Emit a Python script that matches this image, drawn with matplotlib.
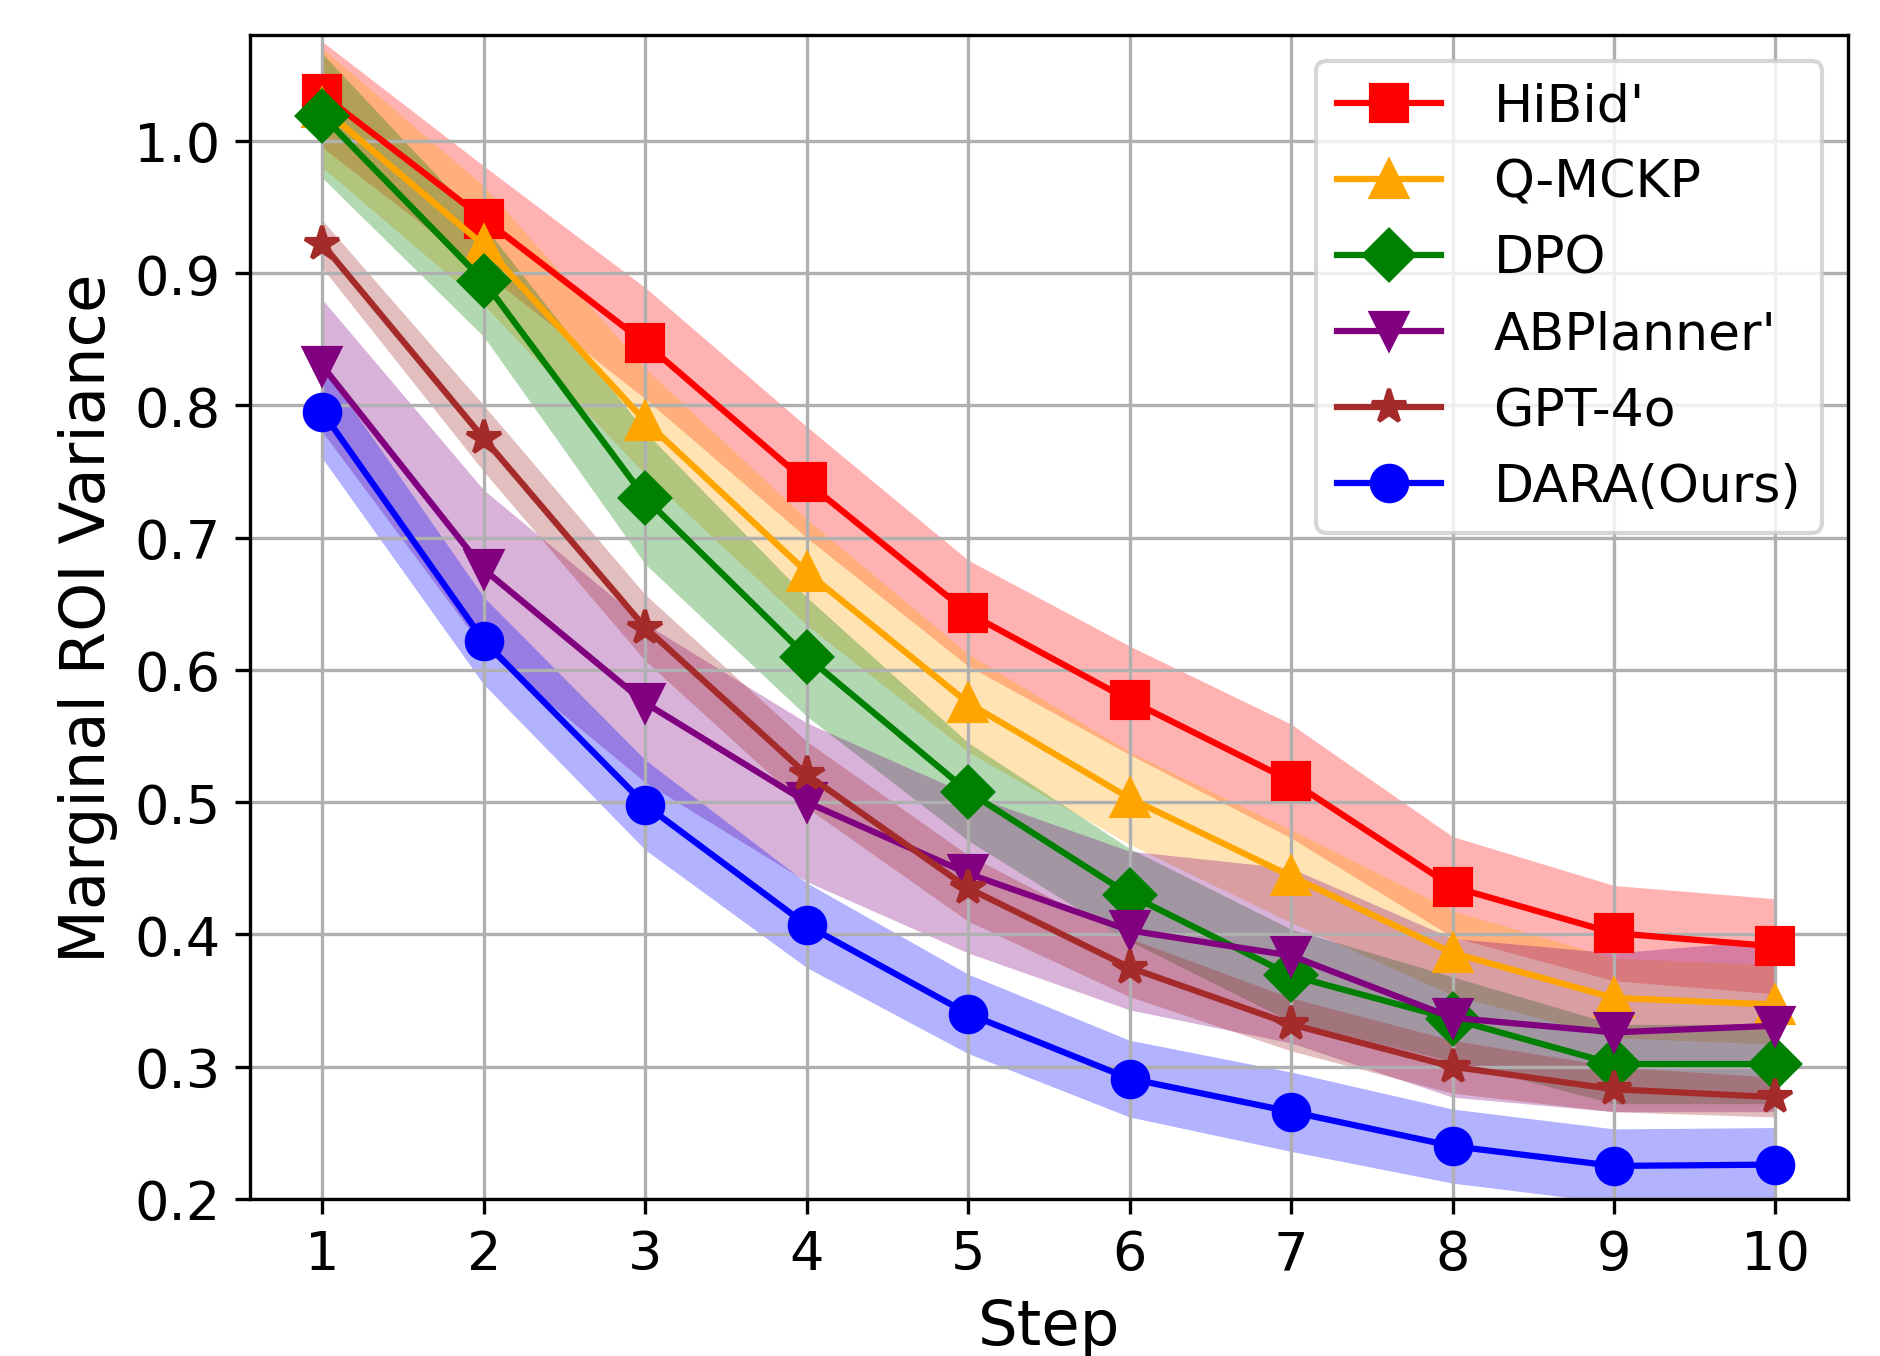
import numpy as np
import matplotlib
matplotlib.use('Agg')
import matplotlib.pyplot as plt

# data: mean and band half-width per step
steps = [1, 2, 3, 4, 5, 6, 7, 8, 9, 10]

hibid = [1.035, 0.941, 0.847, 0.742, 0.643, 0.577, 0.516, 0.436, 0.401, 0.391]
hibid_std = [0.040, 0.040, 0.042, 0.042, 0.040, 0.041, 0.043, 0.038, 0.036, 0.036]

qmckp = [1.025, 0.921, 0.788, 0.674, 0.575, 0.503, 0.444, 0.386, 0.352, 0.347]
qmckp_std = [0.045, 0.045, 0.040, 0.040, 0.037, 0.035, 0.035, 0.032, 0.030, 0.030]

dpo = [1.019, 0.894, 0.730, 0.610, 0.508, 0.430, 0.369, 0.336, 0.302, 0.302]
dpo_std = [0.047, 0.042, 0.050, 0.045, 0.037, 0.035, 0.035, 0.032, 0.030, 0.030]

abplanner = [0.830, 0.676, 0.575, 0.500, 0.446, 0.403, 0.384, 0.337, 0.326, 0.331]
abplanner_std = [0.050, 0.060, 0.060, 0.060, 0.060, 0.060, 0.066, 0.060, 0.060, 0.065]

gpt4o = [0.922, 0.775, 0.632, 0.521, 0.435, 0.375, 0.332, 0.300, 0.283, 0.277]
gpt4o_std = [0.018, 0.025, 0.025, 0.025, 0.025, 0.022, 0.020, 0.020, 0.017, 0.015]

dara = [0.795, 0.622, 0.498, 0.407, 0.340, 0.291, 0.266, 0.240, 0.225, 0.226]
dara_std = [0.035, 0.033, 0.034, 0.032, 0.030, 0.029, 0.030, 0.028, 0.028, 0.028]

labels = ["HiBid'", "Q-MCKP", "DPO", "ABPlanner'", "GPT-4o", "DARA(Ours)"]
colors = ['red', 'orange', 'green', 'purple', 'brown', 'blue']
markers = ['s', '^', 'D', 'v', '*', 'o']
means = [hibid, qmckp, dpo, abplanner, gpt4o, dara]
stds = [hibid_std, qmckp_std, dpo_std, abplanner_std, gpt4o_std, dara_std]

fig = plt.figure(figsize=(6.27, 4.5233), dpi=300)
ax = fig.add_axes([0.1327, 0.1157, 0.8498, 0.8578])

x = np.array(steps)
for lab, c, m, mu, sd in zip(labels, colors, markers, means, stds):
    mu = np.array(mu)
    sd = np.array(sd)
    ax.plot(x, mu, color=c, marker=m, markersize=8.5, linewidth=1.5, label=lab)
    ax.fill_between(x, mu - sd, mu + sd, color=c, alpha=0.3, linewidth=0)

ax.set_xticks(steps)
ax.set_ylim(0.2, 1.08)
ax.set_xlabel('Step', fontsize=15)
ax.set_ylabel('Marginal ROI Variance', fontsize=15)
ax.tick_params(labelsize=13)
ax.grid(True)
ax.legend(loc='upper right', fontsize=12.5, handletextpad=1.0)

fig.savefig('out.png', dpi=300)
